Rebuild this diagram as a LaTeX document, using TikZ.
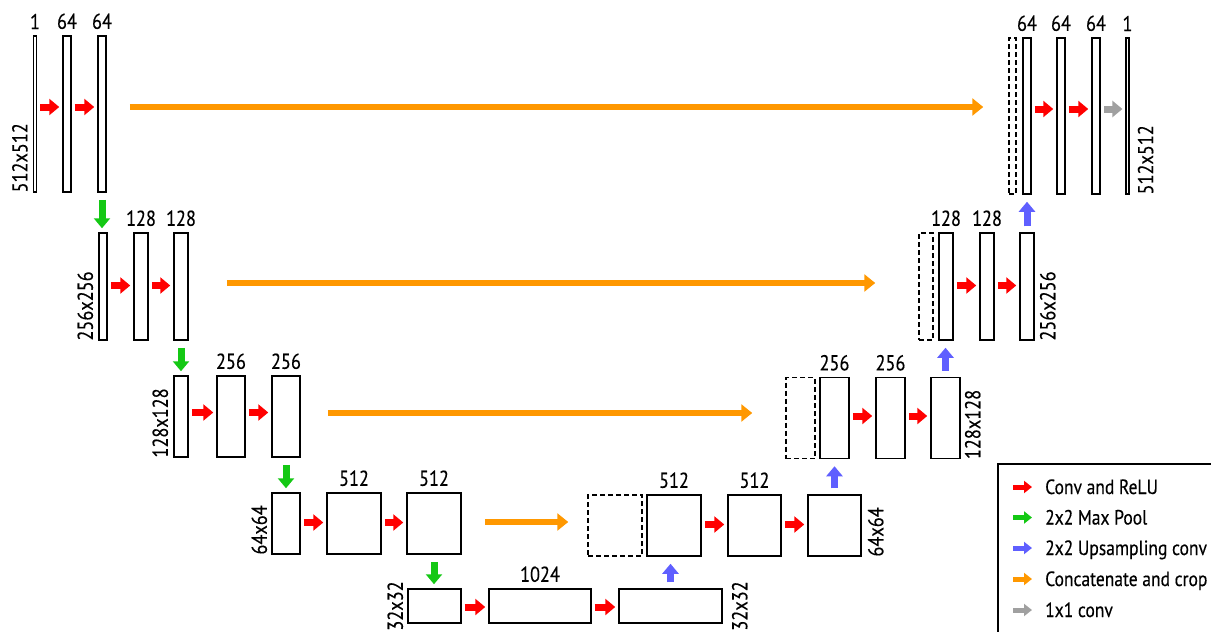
\documentclass[tikz,border=0pt]{standalone}
\usepackage{fontspec}
\setmainfont{PT Sans}[FakeStretch=0.85,FakeBold=0.3]
\usetikzlibrary{arrows.meta,positioning}

\definecolor{convred}{RGB}{255,0,0}
\definecolor{poolgreen}{RGB}{20,200,20}
\definecolor{upblue}{RGB}{95,95,255}
\definecolor{catorange}{RGB}{255,152,0}
\definecolor{onegray}{RGB}{160,160,160}

\begin{document}
\begin{tikzpicture}[x=1pt,y=-1pt,font=\fontsize{21.5}{24}\selectfont]
        \tikzstyle{box}=[draw,line width=1.5pt,inner sep=0,minimum width=8pt]
        \tikzstyle{crop}=[box,dash pattern=on 5pt off 3pt]
        \tikzstyle{level 1}=[minimum height=156pt]
        \tikzstyle{level 2}=[minimum height=107pt]
        \tikzstyle{level 3}=[minimum height=81pt]
        \tikzstyle{level 4}=[minimum height=61pt]
        \tikzstyle{level 5}=[minimum height=34pt]
        \tikzstyle{thin}=[line width=1.2pt,minimum width=3pt]
        \tikzstyle{num}=[inner sep=0]
        \tikzstyle{entry}=[inner sep=0,anchor=base west,font=\fontsize{20.6}{24}\selectfont]
        \tikzstyle{size left}=[inner sep=0,rotate=90,anchor=south west]
        \tikzstyle{size right}=[inner sep=0,rotate=90,anchor=north west]
        \tikzstyle{block}=[line width=7pt,-{Triangle[length=10pt,width=16pt]}]
        \tikzstyle{conv}=[block,convred,shorten <=3pt,shorten >=3pt]
        \tikzstyle{onebyone}=[block,onegray,shorten <=3pt,shorten >=3pt]
        \tikzstyle{pool}=[block,poolgreen,shorten <=7pt,shorten >=4pt]
        \tikzstyle{upconv}=[block,upblue,shorten <=6pt,shorten >=7pt]
        \tikzstyle{concat}=[line width=6pt,catorange,-{Triangle[length=11pt,width=17pt]}]
        \tikzstyle{key}=[line width=5pt,-{Triangle[length=8pt,width=12pt]}]

        \useasboundingbox (0,0) rectangle (1211,632);

        % Contracting path
        \node[box,level 1,thin](l1a) at (35,114){};
        \node[box,level 1](l1b) at (67,114){};
        \node[box,level 1](l1c) at (102,114){};
        \node[box,level 2](l2a) at (103,286.5){};
        \node[box,level 2,minimum width=14pt](l2b) at (141,286.5){};
        \node[box,level 2,minimum width=14pt](l2c) at (181,286.5){};
        \node[box,level 3,minimum width=14pt](l3a) at (181,416.5){};
        \node[box,level 3,minimum width=28pt](l3b) at (231,416.5){};
        \node[box,level 3,minimum width=28pt](l3c) at (286,416.5){};
        \node[box,level 4,minimum width=28pt](l4a) at (286,523.5){};
        \node[box,level 4,minimum width=54pt](l4b) at (354,523.5){};
        \node[box,level 4,minimum width=54pt](l4c) at (434,523.5){};

        % Bottleneck
        \node[box,level 5,minimum width=53pt](b1) at (434.5,606){};
        \node[box,level 5,minimum width=102pt](b2) at (540,606){};
        \node[box,level 5,minimum width=103pt](b3) at (670.5,606){};

        % Expanding path
        \node[crop,level 4,minimum width=54pt](r4a) at (615,525.5){};
        \node[box,level 4,minimum width=54pt](r4b) at (674,525.5){};
        \node[box,level 4,minimum width=53pt](r4c) at (754.5,525.5){};
        \node[box,level 4,minimum width=53pt](r4d) at (834.5,525.5){};
        \node[crop,level 3,minimum width=29pt](r3a) at (800.5,418){};
        \node[box,level 3,minimum width=29pt](r3b) at (834.5,418){};
        \node[box,level 3,minimum width=29pt](r3c) at (890.5,418){};
        \node[box,level 3,minimum width=29pt](r3d) at (945.5,418){};
        \node[crop,level 2,minimum width=14pt](r2a) at (926,286.5){};
        \node[box,level 2,minimum width=14pt](r2b) at (946,286.5){};
        \node[box,level 2,minimum width=14pt](r2c) at (987,286.5){};
        \node[box,level 2,minimum width=14pt](r2d) at (1027,286.5){};
        \node[crop,level 1,minimum width=7pt](r1a) at (1012.5,116){};
        \node[box,level 1](r1b) at (1027,116){};
        \node[box,level 1](r1c) at (1061,116){};
        \node[box,level 1](r1d) at (1096,116){};
        \node[box,level 1,thin](r1e) at (1127.5,116){};

        % Channel counts
        \node[num,above=6pt of l1a](nl1a){1};
        \node[num,above=6pt of l1b](nl1b){64};
        \node[num,above=6pt of l1c](nl1c){64};
        \node[num,above=6pt of l2b](nl2b){128};
        \node[num,above=6pt of l2c](nl2c){128};
        \node[num,above=6pt of l3b](nl3b){256};
        \node[num,above=6pt of l3c](nl3c){256};
        \node[num,above=6pt of l4b](nl4b){512};
        \node[num,above=6pt of l4c](nl4c){512};
        \node[num,above=6pt of b2](nb2){1024};
        \node[num,above=6pt of r4b](nr4b){512};
        \node[num,above=6pt of r4c](nr4c){512};
        \node[num,above=6pt of r3b](nr3b){256};
        \node[num,above=6pt of r3c](nr3c){256};
        \node[num,above=6pt of r2b](nr2b){128};
        \node[num,above=6pt of r2c](nr2c){128};
        \node[num,above=6pt of r1b](nr1b){64};
        \node[num,above=6pt of r1c](nr1c){64};
        \node[num,above=6pt of r1d](nr1d){64};
        \node[num,above=6pt of r1e](nr1e){1};

        % Feature map sizes
        \node[size left](sl1) at ([xshift=-5pt]l1a.south west){512x512};
        \node[size left](sl2) at ([xshift=-5pt]l2a.south west){256x256};
        \node[size left](sl3) at ([xshift=-5pt]l3a.south west){128x128};
        \node[size left](sl4) at ([xshift=-4pt]l4a.south west){64x64};
        \node[size left,anchor=south](sl5) at ([xshift=-4pt]b1.west){32x32};
        \node[size right,anchor=north](sr5) at ([xshift=9pt]b3.east){32x32};
        \node[size right](sr4) at ([xshift=6pt]r4d.south east){64x64};
        \node[size right](sr3) at ([xshift=4pt]r3d.south east){128x128};
        \node[size right](sr2) at ([xshift=5pt]r2d.south east){256x256};
        \node[size right](sr1) at ([xshift=8pt]r1e.south east){512x512};

        % Convolutions
        \draw[conv] ([yshift=7pt]l1a.east) -- ([yshift=7pt]l1b.west);
        \draw[conv] ([yshift=7pt]l1b.east) -- ([yshift=7pt]l1c.west);
        \draw[conv] ([yshift=1pt]l2a.east) -- ([yshift=1pt]l2b.west);
        \draw[conv] ([yshift=1pt]l2b.east) -- ([yshift=1pt]l2c.west);
        \draw[conv] ([yshift=4pt]l3a.east) -- ([yshift=4pt]l3b.west);
        \draw[conv] ([yshift=4pt]l3b.east) -- ([yshift=4pt]l3c.west);
        \draw[conv] ([yshift=1pt]l4a.east) -- ([yshift=1pt]l4b.west);
        \draw[conv] ([yshift=1pt]l4b.east) -- ([yshift=1pt]l4c.west);
        \draw[conv] ([yshift=-1pt]b1.east) -- ([yshift=-1pt]b2.west);
        \draw[conv] ([yshift=-1pt]b2.east) -- ([yshift=-1pt]b3.west);
        \draw[conv] ([yshift=1pt]r4b.east) -- ([yshift=1pt]r4c.west);
        \draw[conv] ([yshift=1pt]r4c.east) -- ([yshift=1pt]r4d.west);
        \draw[conv] ([yshift=2pt]r3b.east) -- ([yshift=2pt]r3c.west);
        \draw[conv] ([yshift=2pt]r3c.east) -- ([yshift=2pt]r3d.west);
        \draw[conv] ([yshift=1pt]r2b.east) -- ([yshift=1pt]r2c.west);
        \draw[conv] ([yshift=1pt]r2c.east) -- ([yshift=1pt]r2d.west);
        \draw[conv] ([yshift=7pt]r1b.east) -- ([yshift=7pt]r1c.west);
        \draw[conv] ([yshift=7pt]r1c.east) -- ([yshift=7pt]r1d.west);
        \draw[onebyone] ([yshift=7pt]r1d.east) -- ([yshift=7pt]r1e.west);

        % Max pooling and up-convolutions
        \draw[pool] (l1c.south) -- (l1c.south |- l2a.north);
        \draw[pool] (l2c.south) -- (l2c.south |- l3a.north);
        \draw[pool] (l3c.south) -- (l3c.south |- l4a.north);
        \draw[pool] (l4c.south) -- (l4c.south |- b1.north);
        \draw[upconv] (b3.north) -- (b3.north |- r4b.south);
        \draw[upconv] (r4d.north) -- (r4d.north |- r3b.south);
        \draw[upconv] (r3d.north) -- (r3d.north |- r2b.south);
        \draw[upconv] (r2d.north) -- (r2d.north |- r1b.south);

        % Skip connections
        \draw[concat,shorten <=23pt,shorten >=25pt] ([yshift=7pt]l1c.east) -- ([yshift=9pt]r1a.west);
        \draw[concat,shorten <=38pt,shorten >=43pt] ([yshift=3.5pt]l2c.east) -- ([yshift=3.5pt]r2a.west);
        \draw[concat,shorten <=27pt,shorten >=33pt] ([yshift=3.5pt]l3c.east) -- ([yshift=5pt]r3a.west);
        \draw[concat,shorten <=23pt,shorten >=19pt] ([yshift=1.5pt]l4c.east) -- ([yshift=3.5pt]r4a.west);

        % Legend
        \draw[line width=1.5pt] (998,464) rectangle (1230,650);
        \node[entry](t1) at (1045,494){Conv and ReLU};
        \node[entry](t2) at (1045,524.5){2x2 Max Pool};
        \node[entry](t3) at (1045,555){2x2 Upsampling conv};
        \node[entry](t4) at (1045,586){Concatenate and crop};
        \node[entry](t5) at (1045,617){1x1 conv};
        \draw[key,convred] ([xshift=-32pt,yshift=7pt]t1.base west) -- ([xshift=-13pt,yshift=7pt]t1.base west);
        \draw[key,poolgreen] ([xshift=-32pt,yshift=7pt]t2.base west) -- ([xshift=-13pt,yshift=7pt]t2.base west);
        \draw[key,upblue] ([xshift=-32pt,yshift=7pt]t3.base west) -- ([xshift=-13pt,yshift=7pt]t3.base west);
        \draw[key,catorange] ([xshift=-32pt,yshift=7pt]t4.base west) -- ([xshift=-13pt,yshift=7pt]t4.base west);
        \draw[key,onegray] ([xshift=-32pt,yshift=7pt]t5.base west) -- ([xshift=-13pt,yshift=7pt]t5.base west);
    \end{tikzpicture}
\end{document}
